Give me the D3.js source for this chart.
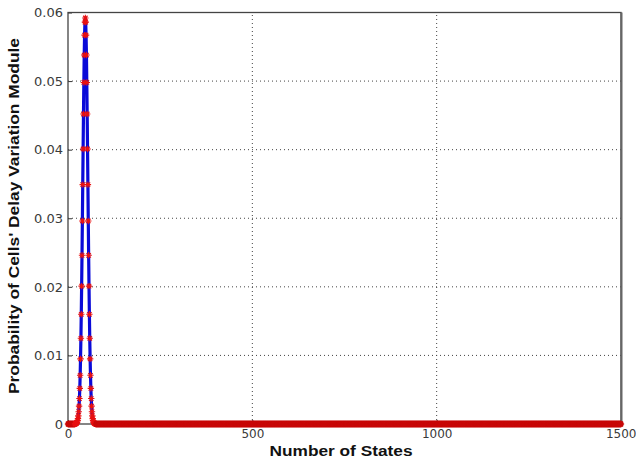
<!DOCTYPE html>
<html>
<head>
<meta charset="utf-8">
<script src="https://cdn.jsdelivr.net/npm/d3@7"></script>
<style>
  body { margin: 0; background: #fff; }
  svg { display: block; }
</style>
</head>
<body>
<div id="chart"></div>
<script>
const width = 636,
  height = 462;
const margin = { top: 12.5, right: 15, bottom: 38, left: 68 };

// probability per state (only the hump is non-zero)
const peakStates = d3.range(19, 76);
const peakProb = [
  0.00001, 0.00002, 0.00004, 0.00007, 0.00012, 0.00019, 0.00031, 0.0005,
  0.00079, 0.00119, 0.00179, 0.0026, 0.00371, 0.0052, 0.0071, 0.0095,
  0.0125, 0.016, 0.0201, 0.0246, 0.0296, 0.0349, 0.0401, 0.0452, 0.0498,
  0.0538, 0.0567, 0.0586, 0.0592, 0.0586, 0.0567, 0.0538, 0.0498, 0.0452,
  0.0401, 0.0349, 0.0296, 0.0246, 0.0201, 0.016, 0.0125, 0.0095, 0.0071,
  0.0052, 0.00371, 0.0026, 0.00179, 0.00119, 0.00079, 0.0005, 0.00031,
  0.00019, 0.00012, 0.00007, 0.00004, 0.00002, 0.00001
];
// states where the probability is zero
const zeroStatesLow = d3.range(0, 19);
const zeroStatesHigh = d3.range(76, 1501);

const xTicks = [0, 500, 1000, 1500];
const yTicks = [0, 0.01, 0.02, 0.03, 0.04, 0.05, 0.06];

const data = []
  .concat(zeroStatesLow.map((s) => ({ s: s, p: 0 })))
  .concat(peakStates.map((s, i) => ({ s: s, p: peakProb[i] })))
  .concat(zeroStatesHigh.map((s) => ({ s: s, p: 0 })));

const x = d3
  .scaleLinear()
  .domain([0, 1500])
  .range([margin.left, width - margin.right]);
const y = d3
  .scaleLinear()
  .domain([0, 0.06])
  .range([height - margin.bottom, margin.top]);

const svg = d3
  .select("#chart")
  .append("svg")
  .attr("width", width)
  .attr("height", height);

// dotted grid
svg
  .append("g")
  .selectAll("line")
  .data(xTicks.slice(1, -1))
  .join("line")
  .attr("x1", (d) => x(d))
  .attr("x2", (d) => x(d))
  .attr("y1", y(0))
  .attr("y2", y(0.06))
  .attr("stroke", "#444")
  .attr("stroke-width", 1)
  .attr("stroke-dasharray", "1,3");
svg
  .append("g")
  .selectAll("line")
  .data(yTicks.slice(1, -1))
  .join("line")
  .attr("x1", x(0))
  .attr("x2", x(1500))
  .attr("y1", (d) => y(d))
  .attr("y2", (d) => y(d))
  .attr("stroke", "#444")
  .attr("stroke-width", 1)
  .attr("stroke-dasharray", "1,3");

// axes with inward ticks
const xAxis = svg
  .append("g")
  .attr("transform", `translate(0,${y(0)})`)
  .call(d3.axisBottom(x).tickValues(xTicks).tickFormat(d3.format("d")).tickSizeInner(-4).tickSizeOuter(0).tickPadding(5));
const yAxis = svg
  .append("g")
  .attr("transform", `translate(${x(0)},0)`)
  .call(d3.axisLeft(y).tickValues(yTicks).tickFormat((d) => (d === 0 ? "0" : d3.format(".2f")(d))).tickSizeInner(-4).tickSizeOuter(0).tickPadding(5));
[xAxis, yAxis].forEach((g) => {
  g.select(".domain").remove();
  g.selectAll("line").attr("stroke", "#333");
  g.selectAll("text")
    .attr("fill", "#3a3a3a")
    .style("font-family", "'DejaVu Sans', sans-serif")
    .style("font-size", "13px");
});
xAxis.selectAll("text").style("font-size", "12px");
// last x label sits against the right edge, as in the original
xAxis
  .selectAll("text")
  .filter((d) => d === 1500)
  .attr("text-anchor", "end")
  .attr("dx", "15");

// frame
svg
  .append("rect")
  .attr("x", x(0))
  .attr("y", y(0.06))
  .attr("width", x(1500) - x(0))
  .attr("height", y(0) - y(0.06))
  .attr("fill", "none")
  .attr("stroke", "#444")
  .attr("stroke-width", 1.3);
svg
  .append("line")
  .attr("x1", x(1500) + 0.5)
  .attr("x2", x(1500) + 0.5)
  .attr("y1", y(0.06))
  .attr("y2", y(0))
  .attr("stroke", "#666")
  .attr("stroke-width", 2);

// blue line
const line = d3
  .line()
  .x((d) => x(d.s))
  .y((d) => y(d.p));
svg
  .append("path")
  .datum(data)
  .attr("d", line)
  .attr("fill", "none")
  .attr("stroke", "#0a0ad8")
  .attr("stroke-width", 3.2)
  .attr("stroke-linejoin", "round");

// red star markers
const r = 3.2;
const star =
  `M${-r},0L${r},0M0,${-r}L0,${r}` +
  `M${-r * 0.7},${-r * 0.7}L${r * 0.7},${r * 0.7}M${-r * 0.7},${r * 0.7}L${r * 0.7},${-r * 0.7}`;
svg
  .append("g")
  .selectAll("path")
  .data(data)
  .join("path")
  .attr("transform", (d) => `translate(${x(d.s)},${y(d.p)})`)
  .attr("d", star)
  .attr("fill", "none")
  .attr("stroke", (d) => (d.p === 0 ? "#c80808" : "#e81010"))
  .attr("stroke-width", 1.1);

// axis titles
svg
  .append("text")
  .attr("x", 341)
  .attr("y", 456)
  .attr("text-anchor", "middle")
  .attr("textLength", 143)
  .attr("lengthAdjust", "spacingAndGlyphs")
  .style("font-family", "'Liberation Sans', Arial, sans-serif")
  .style("font-size", "14px")
  .style("font-weight", "bold")
  .attr("fill", "#111")
  .text("Number of States");
svg
  .append("text")
  .attr("transform", `translate(19,216) rotate(-90)`)
  .attr("text-anchor", "middle")
  .attr("textLength", 356)
  .attr("lengthAdjust", "spacingAndGlyphs")
  .style("font-family", "'Liberation Sans', Arial, sans-serif")
  .style("font-size", "14px")
  .style("font-weight", "bold")
  .attr("fill", "#111")
  .text("Probability of Cells' Delay Variation Module");
</script>
</body>
</html>
